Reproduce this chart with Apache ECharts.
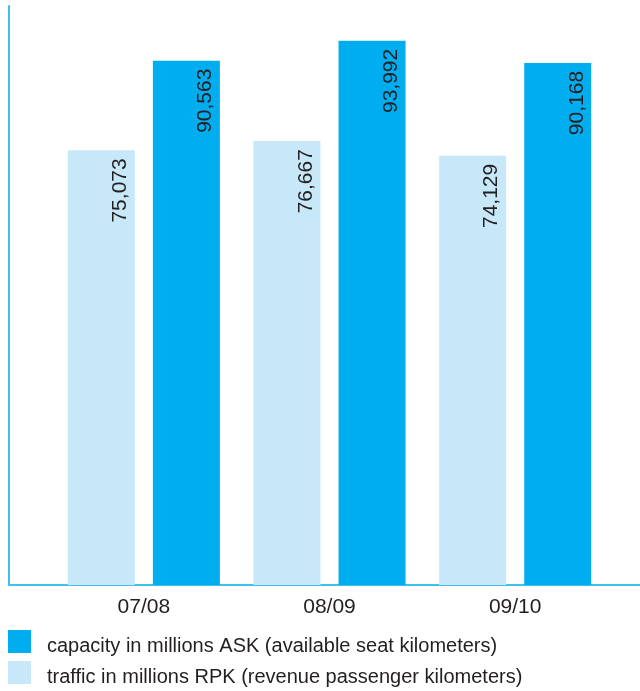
<!DOCTYPE html>
<html>
<head>
<meta charset="utf-8">
<title>ASK / RPK</title>
<script src="https://cdn.jsdelivr.net/npm/echarts@6/dist/echarts.min.js"></script>
<style>
  html, body { margin: 0; padding: 0; background: #fff; }
  #chart { width: 640px; height: 691px; }
</style>
</head>
<body>
<div id="chart"></div>
<script type="text/javascript">
  // data
  var years = ['07/08', '08/09', '09/10'];
  var rpk = [75073, 76667, 74129];   // traffic, light bars
  var ask = [90563, 93992, 90168];   // capacity, dark bars
  var seriesNames = [
    'traffic in millions RPK (revenue passenger kilometers)',
    'capacity in millions ASK (available seat kilometers)'
  ];

  var textColor = '#231f20';
  var lineColor = '#3fc0ef';
  var fontName = 'Liberation Sans';

  var chart = echarts.init(document.getElementById('chart'));

  function fmt(v) {
    return v.toLocaleString('en-US');
  }

  // value reads bottom to top, ending just under the bar top
  var barLabel = {
    show: true,
    position: 'insideTop',
    rotate: 90,
    align: 'right',
    verticalAlign: 'middle',
    offset: [-3, 19],
    color: textColor,
    fontFamily: fontName,
    fontSize: 21,
    formatter: function (p) { return fmt(p.value); }
  };

  chart.setOption({
    animation: false,
    // grid 0 only carries the long axis lines, grid 1 the bars
    grid: [
      { left: 9, right: 0, top: 6, bottom: 106 },
      { left: 51, right: 32, top: 6, bottom: 106 }
    ],
    legend: {
      orient: 'vertical',
      left: 8,
      top: 630,
      padding: 0,
      itemWidth: 23,
      itemHeight: 23,
      itemGap: 5,
      icon: 'rect',
      data: [seriesNames[1], seriesNames[0]],
      // text sits on the square's bottom edge
      formatter: '{t|{name}}',
      textStyle: {
        color: textColor,
        fontFamily: fontName,
        fontSize: 20,
        rich: {
          t: {
            color: textColor,
            fontFamily: fontName,
            fontSize: 20,
            padding: [9, 0, 0, 11]
          }
        }
      }
    },
    xAxis: [
      {
        gridIndex: 0, type: 'value', min: 0, max: 1,
        axisLine: { show: true, lineStyle: { color: lineColor, width: 2 } },
        axisTick: { show: false }, axisLabel: { show: false }, splitLine: { show: false }
      },
      {
        gridIndex: 1, type: 'category', data: years,
        axisLine: { show: false }, axisTick: { show: false },
        axisLabel: { color: textColor, fontFamily: fontName, fontSize: 21, margin: 12 }
      }
    ],
    yAxis: [
      {
        gridIndex: 0, type: 'value', min: 0, max: 100000,
        axisLine: { show: true, lineStyle: { color: lineColor, width: 2 } },
        axisTick: { show: false }, axisLabel: { show: false }, splitLine: { show: false }
      },
      {
        gridIndex: 1, type: 'value', min: 0, max: 100000,
        axisLine: { show: false }, axisTick: { show: false },
        axisLabel: { show: false }, splitLine: { show: false }
      }
    ],
    series: [
      {
        name: seriesNames[0],
        type: 'bar',
        xAxisIndex: 1, yAxisIndex: 1,
        data: rpk,
        barWidth: 67,
        barGap: '27%',
        itemStyle: { color: '#c7e8f8' },
        label: barLabel
      },
      {
        name: seriesNames[1],
        type: 'bar',
        xAxisIndex: 1, yAxisIndex: 1,
        data: ask,
        barWidth: 67,
        barGap: '27%',
        itemStyle: { color: '#00aeef' },
        label: barLabel
      }
    ]
  });
</script>
</body>
</html>
